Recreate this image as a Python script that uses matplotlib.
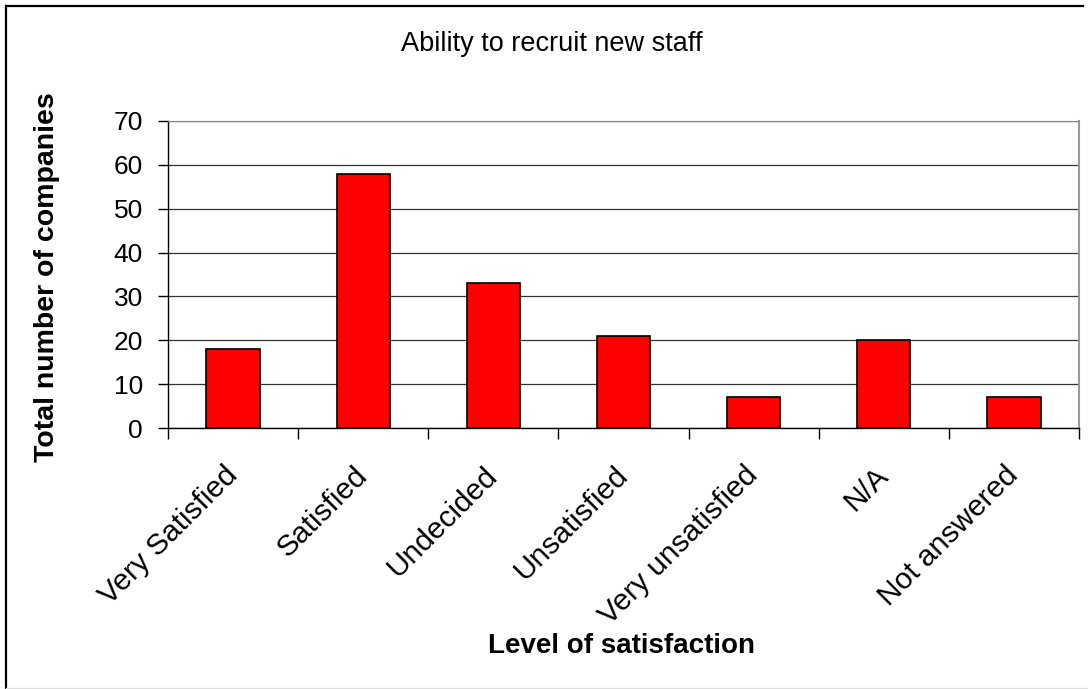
import matplotlib.pyplot as plt
from matplotlib.lines import Line2D

# datos del gráfico
categorias = ['Very Satisfied', 'Satisfied', 'Undecided', 'Unsatisfied',
              'Very unsatisfied', 'N/A', 'Not answered']
valores = [18, 58, 33, 21, 7, 20, 7]
ticks_y = [0, 10, 20, 30, 40, 50, 60, 70]

plt.rcParams['font.family'] = ['Liberation Sans', 'DejaVu Sans']

W, H = 1088, 689
fig = plt.figure(figsize=(W / 100, H / 100), dpi=100)
ax = fig.add_axes([168 / W, 1 - 428 / H, (1079 - 168) / W, (428 - 121) / H])

x = list(range(len(categorias)))
ax.bar(x, valores, width=0.41, color='#ff0000', edgecolor='black', linewidth=1.2, zorder=3)

ax.set_xlim(-0.5, len(categorias) - 0.5)
ax.set_ylim(0, 70)
ax.set_yticks(ticks_y)
ax.set_yticklabels([str(t) for t in ticks_y], fontsize=19)
ax.yaxis.grid(True, color='#333333', linewidth=0.9, zorder=0)
ax.tick_params(axis='y', direction='out', length=7, width=1, pad=11)

# ticks del eje x entre categorías, etiquetas centradas
ax.set_xticks([i - 0.5 for i in range(len(categorias) + 1)])
ax.set_xticklabels([])
ax.set_xticks(x, minor=True)
ax.set_xticklabels(categorias, minor=True, rotation=45, ha='right', va='center',
                   rotation_mode='anchor', fontsize=21.5)
ax.tick_params(axis='x', which='major', direction='out', length=8, width=1)
ax.tick_params(axis='x', which='minor', length=0, pad=31)

ax.spines['top'].set_color('#888888')
ax.spines['right'].set_color('#999999')
ax.spines['right'].set_linewidth(1.5)
ax.spines['left'].set_linewidth(1)
ax.spines['bottom'].set_linewidth(1)

# textos
fig.text(552 / W, 1 - 44 / H, 'Ability to recruit new staff', fontsize=19.5,
         ha='center', va='center')
fig.text(47 / W, 1 - 277 / H, 'Total number of companies', fontsize=20.5,
         fontweight='bold', rotation=90, ha='center', va='center')
fig.text(622 / W, 1 - 646 / H, 'Level of satisfaction', fontsize=20,
         fontweight='bold', ha='center', va='center')

# borde exterior
fig.lines.append(Line2D([6 / W, 6 / W], [0, 1 - 6 / H], transform=fig.transFigure,
                        color='black', linewidth=1.6))
fig.lines.append(Line2D([6 / W, 1083 / W], [1 - 6 / H, 1 - 6 / H], transform=fig.transFigure,
                        color='black', linewidth=1.6))
fig.lines.append(Line2D([6 / W, 1], [1 - 688 / H, 1 - 688 / H], transform=fig.transFigure,
                        color='#dddddd', linewidth=1))

plt.savefig('out.png', dpi=100)
plt.close()
